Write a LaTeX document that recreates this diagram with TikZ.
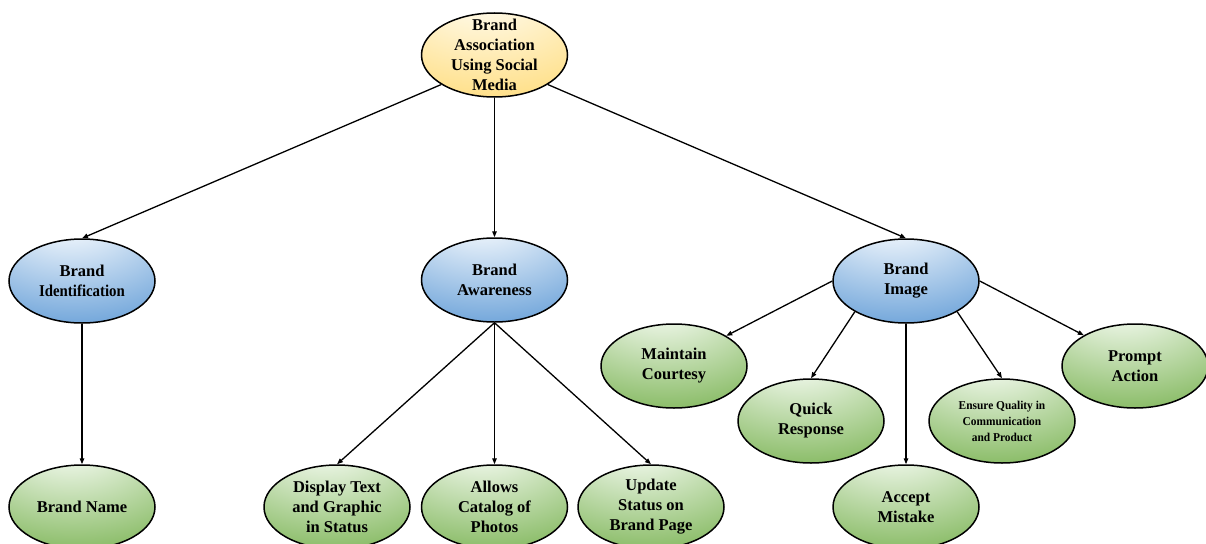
\documentclass[tikz,border=0pt]{standalone}
\usepackage{fontspec}
\setmainfont{Liberation Serif}
\usetikzlibrary{shapes.geometric,arrows.meta}
\pgfdeclareradialshading{blueshade}{\pgfpoint{-5bp}{42bp}}{rgb(0bp)=(1,1,1);rgb(5bp)=(0.98,0.99,1);rgb(56bp)=(0.35,0.59,0.83);rgb(100bp)=(0.35,0.59,0.83)}
\pgfdeclareradialshading{greenshade}{\pgfpoint{-5bp}{42bp}}{rgb(0bp)=(1,1,1);rgb(5bp)=(0.97,0.99,0.96);rgb(56bp)=(0.46,0.69,0.30);rgb(100bp)=(0.46,0.69,0.30)}
\pgfdeclareradialshading{yellowshade}{\pgfpoint{-5bp}{42bp}}{rgb(0bp)=(1,1,1);rgb(5bp)=(1,0.99,0.95);rgb(62bp)=(1,0.84,0.40);rgb(100bp)=(1,0.84,0.40)}
\tikzset{
  ell/.style={ellipse, draw=black, line width=1.5pt, minimum width=146pt, minimum height=84pt, inner sep=0pt, shade},
  blueell/.style={ell, shading=blueshade},
  greenell/.style={ell, shading=greenshade},
  yellowell/.style={ell, shading=yellowshade},
  txt/.style={align=center, font=\fontsize{16.5}{20}\selectfont\bfseries, inner sep=0pt, text=black},
  smalltxt/.style={align=center, font=\fontsize{12}{16}\selectfont\bfseries, inner sep=0pt, text=black},
  conn/.style={line width=1.3pt, -{Triangle[length=6pt,width=4.5pt]}}
}
\begin{document}
\begin{tikzpicture}[x=1pt,y=-1pt]
\useasboundingbox (0,0) rectangle (1206,543);
% ellipses
\node[yellowell] (root) at (494.5,55) {};
\node[blueell] (bi) at (82,281) {};
\node[blueell] (ba) at (494.5,280) {};
\node[blueell] (bimg) at (906,281) {};
\node[greenell] (bn) at (82,507) {};
\node[greenell] (dt) at (337,507) {};
\node[greenell] (ac) at (494.5,507) {};
\node[greenell] (us) at (651,507) {};
\node[greenell] (mc) at (674,366) {};
\node[greenell] (qr) at (811,421) {};
\node[greenell] (am) at (906,507) {};
\node[greenell] (eq) at (1002,421) {};
\node[greenell] (pa) at (1135,366) {};
% texts
\node[txt] (root-t) at (root) {Brand\\Association\\Using Social\\Media};
\node[txt] (bi-t) at (bi) {Brand\\\scalebox{0.9}[1]{Identification}};
\node[txt] (ba-t) at (ba) {Brand\\Awareness};
\node[txt] (bimg-t) at (bimg) {Brand\\Image};
\node[txt] (bn-t) at (bn) {Brand Name};
\node[txt] (dt-t) at (dt) {Display Text\\and Graphic\\in Status};
\node[txt] (ac-t) at (ac) {Allows\\Catalog of\\Photos};
\node[txt] (us-t) at (us) {Update\\Status on\\Brand Page};
\node[txt] (mc-t) at (mc) {Maintain\\Courtesy};
\node[txt] (qr-t) at (qr) {Quick\\Response};
\node[txt] (am-t) at (am) {Accept\\Mistake};
\node[smalltxt] (eq-t) at (eq) {\scalebox{0.95}[1]{Ensure Quality in}\\\scalebox{0.95}[1]{Communication}\\\scalebox{0.95}[1]{and Product}};
\node[txt] (pa-t) at (pa) {Prompt\\Action};
% connectors
\draw[conn] (root.209) -- (bi.north);
\draw[conn] (root.south) -- (ba.north);
\draw[conn] (root.331) -- (bimg.north);
\draw[conn] (bi.south) -- (bn.north);
\draw[conn] (ba.south) -- (dt.north);
\draw[conn] (ba.south) -- (ac.north);
\draw[conn] (ba.south) -- (us.north);
\draw[conn] (bimg.west) -- (mc.30);
\draw[conn] (bimg.211) -- (qr.north);
\draw[conn] (bimg.south) -- (am.north);
\draw[conn] (bimg.329) -- (eq.north);
\draw[conn] (bimg.east) -- (pa.149);
\end{tikzpicture}
\end{document}
